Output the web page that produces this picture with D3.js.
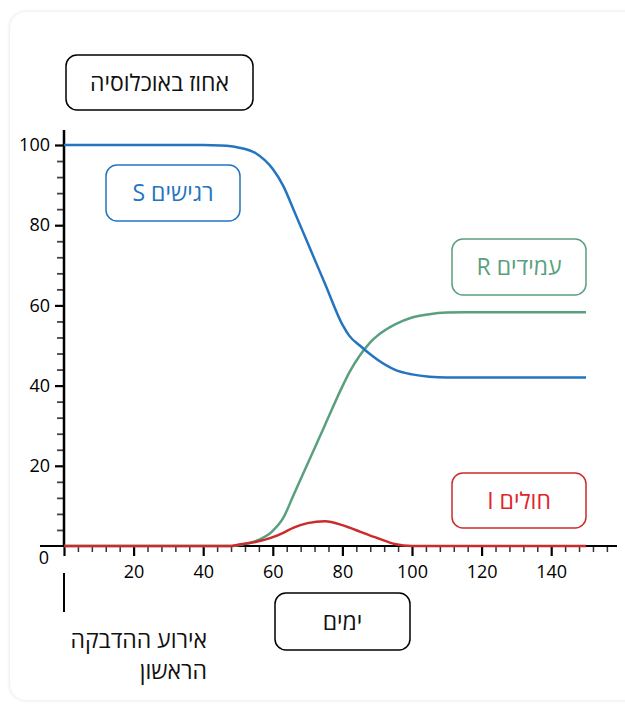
<!DOCTYPE html>
<html><head><meta charset="utf-8">
<script src="https://cdn.jsdelivr.net/npm/d3@7"></script>
<style>
html,body{margin:0;padding:0;background:#fff;width:625px;height:705px;overflow:hidden;}
#card{position:absolute;left:10px;top:12px;width:640px;height:688px;background:#fff;border-radius:16px;box-shadow:0 0 4px rgba(0,0,0,0.12);}
svg{position:absolute;left:0;top:0;}
text{font-family:"Open Sans","Noto Sans","DejaVu Sans",sans-serif;}
</style></head>
<body><div id="card"></div><svg id="chart" width="625" height="705"></svg>
<script>
const days = [0,10,20,30,40,45,48,50,55,60,63,66,70,75,80,82,85,88,90,95,100,105,110,115,120,130,140,150];
const susceptible = [100,100,100,100,100,99.9,99.7,99.4,98,94,89.8,83.8,75.6,65.4,55.2,52.4,50,47.8,46.5,44,42.8,42.2,42,42,42,42,42,42];
const recovered = [0,0,0,0,0,0,0,0.2,1.2,3.8,7,12.8,20.5,30.2,39.8,43.3,47.5,50.8,52.4,55.2,57,57.8,58.2,58.3,58.3,58.3,58.3,58.3];
const infected = [0,0,0,0,0,0,0,0.3,1,2.2,3.3,4.6,5.7,6.2,5.2,4.6,3.6,2.6,2,0.5,0,0,0,0,0,0,0,0];
const xMajorTicks = [20,40,60,80,100,120,140];
const yMajorTicks = [20,40,60,80,100];
const seriesNames = ["רגישים S","עמידים R","חולים I"];
const yTitle = "אחוז באוכלוסיה";
const xTitle = "ימים";
const eventLabel = ["אירוע ההדבקה","הראשון"];

const colors = {S:"#2474c0", R:"#5a9f7e", I:"#cc2b2e"};
const svg = d3.select("#chart");
const x = d3.scaleLinear().domain([0,150]).range([64,586]);
const y = d3.scaleLinear().domain([0,100]).range([546,145]);

const xMinor = d3.range(4,157,4).filter(v=>v%20!==0);
const yMinor = d3.range(4,100,4).filter(v=>v%20!==0);

const gx = svg.append("g").attr("transform",`translate(0,${y(0)})`);
gx.call(d3.axisBottom(x).tickValues(xMinor).tickSize(6).tickFormat(""))
  .call(g=>g.select(".domain").remove())
  .call(g=>g.selectAll("line").attr("stroke","#333").attr("stroke-width",1.5));
const gx2 = svg.append("g").attr("transform",`translate(0,${y(0)})`);
gx2.call(d3.axisBottom(x).tickValues([0].concat(xMajorTicks)).tickSize(10).tickPadding(9).tickFormat(d=>d===0?"":d))
  .call(g=>g.select(".domain").remove())
  .call(g=>g.selectAll("line").attr("stroke","#000").attr("stroke-width",2.2))
  .call(g=>g.selectAll("text").attr("font-size",18).attr("font-weight",500).attr("fill","#000").attr("font-family","Open Sans, sans-serif"));

const gy = svg.append("g").attr("transform",`translate(${x(0)},0)`);
gy.call(d3.axisLeft(y).tickValues(yMinor).tickSize(7).tickFormat(""))
  .call(g=>g.select(".domain").remove())
  .call(g=>g.selectAll("line").attr("stroke","#444").attr("stroke-width",1.8));
const gy2 = svg.append("g").attr("transform",`translate(${x(0)},0)`);
gy2.call(d3.axisLeft(y).tickValues(yMajorTicks).tickSize(9).tickPadding(5))
  .call(g=>g.select(".domain").remove())
  .call(g=>g.selectAll("line").attr("stroke","#000").attr("stroke-width",2.2))
  .call(g=>g.selectAll("text").attr("font-size",18).attr("font-weight",500).attr("fill","#000").attr("font-family","Open Sans, sans-serif"));

svg.append("line").attr("x1",40).attr("x2",617).attr("y1",y(0)).attr("y2",y(0)).attr("stroke","#000").attr("stroke-width",2.2);
svg.append("line").attr("x1",x(0)).attr("x2",x(0)).attr("y1",130).attr("y2",y(0)).attr("stroke","#000").attr("stroke-width",2.5);
svg.append("line").attr("x1",x(0)).attr("x2",x(0)).attr("y1",573).attr("y2",612).attr("stroke","#000").attr("stroke-width",2);
svg.append("text").attr("x",44).attr("y",564).attr("text-anchor","middle").attr("font-size",18).attr("font-weight",500).attr("fill","#000").text("0");

const line = vals => d3.line().x((d,i)=>x(days[i])).y(d=>y(d)).curve(d3.curveMonotoneX)(vals);
svg.append("path").attr("d",line(recovered)).attr("fill","none").attr("stroke",colors.R).attr("stroke-width",2.5);
svg.append("path").attr("d",line(susceptible)).attr("fill","none").attr("stroke",colors.S).attr("stroke-width",2.5);
svg.append("path").attr("d",line(infected)).attr("fill","none").attr("stroke",colors.I).attr("stroke-width",2.5);

function box(x0,y0,w,h,color,label,textColor){
  svg.append("rect").attr("x",x0).attr("y",y0).attr("width",w).attr("height",h).attr("rx",11)
    .attr("fill","#fff").attr("stroke",color).attr("stroke-width",1.5);
  svg.append("text").attr("x",x0+w/2).attr("y",y0+h/2+8).attr("text-anchor","middle")
    .attr("direction","rtl").attr("font-size",23).attr("fill",textColor||color).text(label);
}
box(66,55,187,55,"#000",yTitle,"#111");
box(106,165,134,56,colors.S,seriesNames[0]);
box(452,239,134,56,colors.R,seriesNames[1]);
box(452,473,134,55,colors.I,seriesNames[2],"#e0242b");
box(275,593,135,57,"#000",xTitle,"#111");

svg.append("text").attr("x",207).attr("y",648).attr("text-anchor","start").attr("direction","rtl")
  .attr("font-size",23).attr("fill","#111").text(eventLabel[0]);
svg.append("text").attr("x",207).attr("y",679).attr("text-anchor","start").attr("direction","rtl")
  .attr("font-size",23).attr("fill","#111").text(eventLabel[1]);
</script></body></html>
